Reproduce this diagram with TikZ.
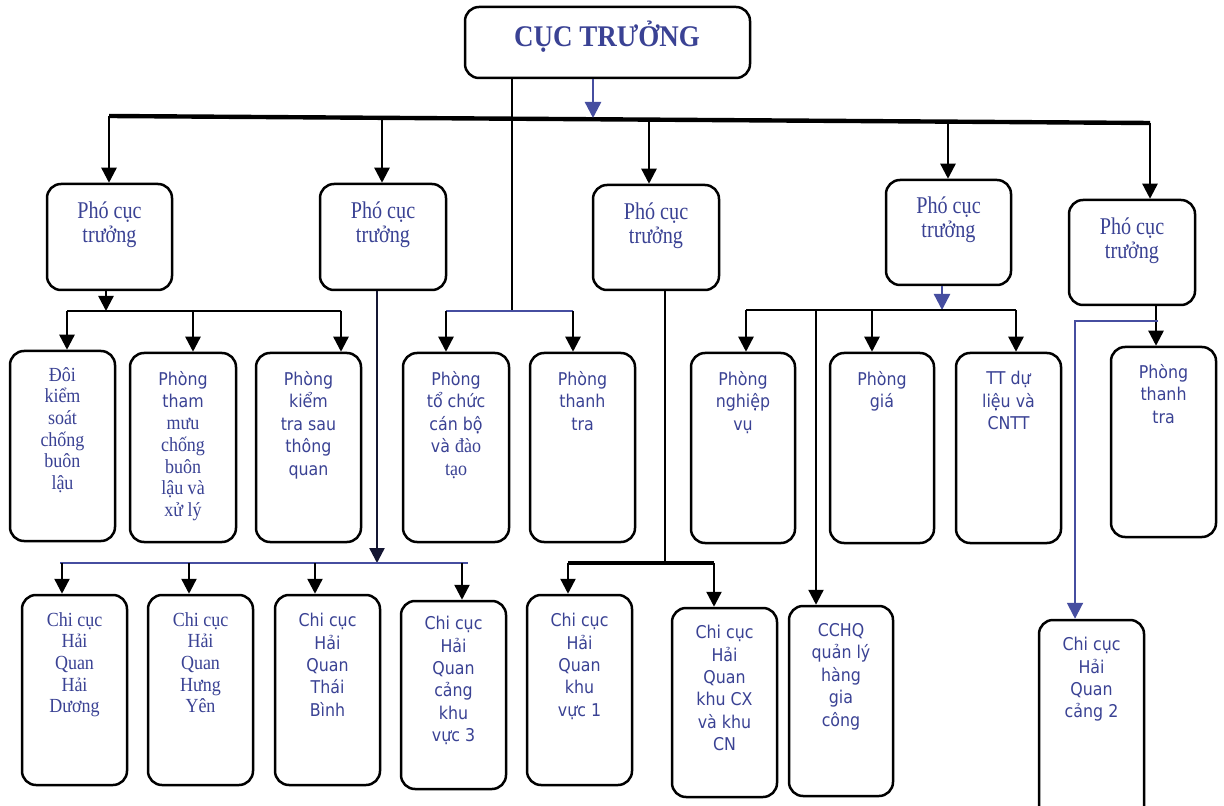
\documentclass[tikz,border=0pt]{standalone}
\usepackage{fontspec}
\usetikzlibrary{arrows.meta,fit}
\newfontfamily\serf[FakeStretch=0.9]{Liberation Serif}
\newfontfamily\serfn[FakeStretch=0.84]{Liberation Serif}
\newfontfamily\sansf[FakeStretch=0.9]{DejaVu Sans}
\newcommand\sa{\sansf\fontsize{8.8pt}{11.2pt}\selectfont}
\newcommand\se{\serf\fontsize{10pt}{10.8pt}\selectfont}
\newcommand\sez{\serf\fontsize{10pt}{10.95pt}\selectfont}
\newcommand\sep{\serfn\fontsize{12pt}{12pt}\selectfont}
\definecolor{tblue}{RGB}{58,66,148}
\definecolor{lblue}{RGB}{70,78,160}
\definecolor{navy}{RGB}{20,22,50}
\tikzset{
  box/.style={draw=black, line width=1.25pt, rounded corners=7pt, inner sep=0pt},
  conn/.style={draw=black, line width=1.2pt},
  arr/.style={conn, -{Triangle[length=7.5pt,width=7.5pt]}},
  blarr/.style={draw=lblue, line width=1.2pt, -{Triangle[length=8pt,width=8pt]}},
  bluethin/.style={draw=lblue, line width=0.8pt},
  topbar/.style={draw=black, line width=2.2pt},
  seT/.style={text=tblue, align=center, inner sep=0pt, anchor=north, font=\se},
  saT/.style={text=tblue, align=center, inner sep=0pt, anchor=north, font=\sa},
}
\newcommand\bx[5]{%
  \path (#2,#3) coordinate (#1-nw) (#4,#5) coordinate (#1-se);
  \node[box, fit=(#1-nw)(#1-se)] (#1) {};}
\begin{document}
\begin{tikzpicture}[x=0.5pt,y=-0.5pt]
\useasboundingbox (0,0) rectangle (1224,806);
\fill[white] (0,0) rectangle (1224,806);
% boxes
\bx{CT}{465}{7}{750}{78}
\bx{P1}{47}{184}{172}{290}
\bx{P2}{320}{184}{446}{290}
\bx{P3}{593}{185}{719}{290}
\bx{P4}{886}{180}{1011}{285}
\bx{P5}{1069}{200}{1195}{305}
\bx{B1}{10}{351}{115}{541}
\bx{B2}{130}{353}{236}{542}
\bx{B3}{256}{353}{361}{542}
\bx{B4}{403}{353}{509}{542}
\bx{B5}{530}{353}{635}{542}
\bx{D1}{691}{353}{795}{543}
\bx{D2}{830}{353}{934}{543}
\bx{D3}{956}{353}{1061}{543}
\bx{E1}{1111}{347}{1216}{537}
\bx{C1}{22}{595}{127}{785}
\bx{C2}{148}{595}{253}{785}
\bx{C3}{275}{595}{380}{785}
\bx{C4}{401}{601}{506}{789}
\bx{C5}{527}{595}{632}{785}
\bx{C6}{672}{608}{777}{797}
\bx{C7}{789}{606}{893}{796}
\bx{C8}{1039}{620}{1144}{840}
% texts
\node[text=tblue, inner sep=0pt, anchor=base, font={\serf\bfseries\fontsize{15pt}{15pt}\selectfont}] (tCT) at (607,47) {CỤC TRƯỞNG};
\node[seT, font=\sep] (tP1) at (P1.north |- 0,201) {Phó cục\\trưởng};
\node[seT, font=\sep] (tP2) at (P2.north |- 0,201) {Phó cục\\trưởng};
\node[seT, font=\sep] (tP3) at (P3.north |- 0,202) {Phó cục\\trưởng};
\node[seT, font=\sep] (tP4) at (P4.north |- 0,196) {Phó cục\\trưởng};
\node[seT, font=\sep] (tP5) at (P5.north |- 0,217) {Phó cục\\trưởng};
\node[seT] (tB1) at (B1.north |- 0,367) {Đôi\\kiểm\\soát\\chống\\buôn\\lậu};
\node[seT, font=\sez] (tB2) at (B2.north |- 0,371) {\sa Phòng\\\sa tham\\mưu\\chống\\buôn\\lậu và\\xử lý};
\node[saT] (tB3) at (B3.north |- 0,371) {Phòng\\kiểm\\tra sau\\thông\\quan};
\node[saT] (tB4) at (B4.north |- 0,371) {Phòng\\tổ chức\\cán bộ\\và {\se đào}\\{\se tạo}};
\node[saT] (tB5) at (B5.north |- 0,371) {Phòng\\thanh\\tra};
\node[saT] (tD1) at (D1.north |- 0,371) {Phòng\\nghiệp\\vụ};
\node[saT] (tD2) at (D2.north |- 0,371) {Phòng\\giá};
\node[saT] (tD3) at (D3.north |- 0,371) {TT dự\\liệu và\\CNTT};
\node[saT] (tE1) at (E1.north |- 0,364) {Phòng\\thanh\\tra};
\node[seT] (tC1) at (C1.north |- 0,612) {Chi cục\\Hải\\Quan\\Hải\\Dương};
\node[seT] (tC2) at (C2.north |- 0,612) {Chi cục\\Hải\\Quan\\Hưng\\Yên};
\node[saT] (tC3) at (C3.north |- 0,613) {Chi cục\\Hải\\Quan\\Thái\\Bình};
\node[saT] (tC4) at (C4.north |- 0,616) {Chi cục\\Hải\\Quan\\cảng\\khu\\vực 3};
\node[saT] (tC5) at (C5.north |- 0,613) {Chi cục\\Hải\\Quan\\khu\\vực 1};
\node[saT] (tC6) at (C6.north |- 0,625) {Chi cục\\Hải\\Quan\\khu CX\\và khu\\CN};
\node[saT] (tC7) at (C7.north |- 0,623) {CCHQ\\quản lý\\hàng\\gia\\công};
\node[saT] (tC8) at (C8.north |- 0,637) {Chi cục\\Hải\\Quan\\cảng 2};
% top bus
\coordinate (barL) at (109,116);
\coordinate (barR) at (1150,123);
\coordinate (a2) at (382,118);
\coordinate (a3) at (649,120);
\coordinate (a4) at (948,122);
\draw[topbar] (barL) -- (barR);
\draw[arr] (barL) -- (barL |- P1.north);
\draw[arr] (a2) -- (a2 |- P2.north);
\draw[arr] (a3) -- (a3 |- P3.north);
\draw[arr] (a4) -- (a4 |- P4.north);
\draw[arr] (barR) -- (barR |- P5.north);
\coordinate (ca) at (593,118);
\draw[blarr] (ca |- CT.south) -- (ca);
% line from CT to bracket
\coordinate (tc) at (512,311);
\draw[draw=black, line width=0.9pt] (tc |- CT.south) -- (tc);
\coordinate (br1) at (446,311);
\coordinate (br2) at (573,311);
\draw[bluethin] (br1) -- (br2);
\draw[arr] (br1) -- (br1 |- B4.north);
\draw[arr] (br2) -- (br2 |- B5.north);
% P1 group
\coordinate (q1) at (106,311);
\coordinate (m1) at (67,311);
\coordinate (m2) at (193,311);
\coordinate (m3) at (341,311);
\draw[arr] (q1 |- P1.south) -- (q1);
\draw[conn] (m1) -- (m3);
\draw[arr] (m1) -- (m1 |- B1.north);
\draw[arr] (m2) -- (m2 |- B2.north);
\draw[arr] (m3) -- (m3 |- B3.north);
% P2 group
\coordinate (q2) at (377,563);
\draw[arr, draw=navy] (q2 |- P2.south) -- (q2);
\coordinate (n0) at (60,563);
\coordinate (n5) at (468,563);
\draw[bluethin] (n0) -- (n5);
\coordinate (n1) at (62,563);
\coordinate (n2) at (189,563);
\coordinate (n3) at (315,563);
\coordinate (n4) at (462,563);
\draw[arr] (n1) -- (n1 |- C1.north);
\draw[arr] (n2) -- (n2 |- C2.north);
\draw[arr] (n3) -- (n3 |- C3.north);
\draw[arr] (n4) -- (n4 |- C4.north);
% P3 group
\coordinate (q3) at (665,563);
\coordinate (k1) at (568,563);
\coordinate (k2) at (714,563);
\draw[conn] (q3 |- P3.south) -- (q3);
\draw[draw=black, line width=1.7pt] (k1) -- (k2);
\draw[arr] (k1) -- (k1 |- C5.north);
\draw[arr] (k2) -- (k2 |- C6.north);
% P4 group
\coordinate (q4) at (942,310);
\draw[blarr] (q4 |- P4.south) -- (q4);
\coordinate (d1) at (746,310);
\coordinate (d2) at (872,310);
\coordinate (d3) at (1016,310);
\coordinate (d4) at (816,310);
\draw[conn] (d1) -- (d3);
\draw[arr] (d1) -- (d1 |- D1.north);
\draw[arr] (d2) -- (d2 |- D2.north);
\draw[arr] (d3) -- (d3 |- D3.north);
\draw[arr] (d4) -- (d4 |- C7.north);
% P5 group
\coordinate (q5) at (1156,0);
\draw[arr] (q5 |- P5.south) -- (q5 |- E1.north);
\coordinate (r1) at (1158,321);
\coordinate (r2) at (1075,321);
\draw[blarr, line width=1pt] (r1) -- (r2) -- (r2 |- C8.north);
\end{tikzpicture}
\end{document}
